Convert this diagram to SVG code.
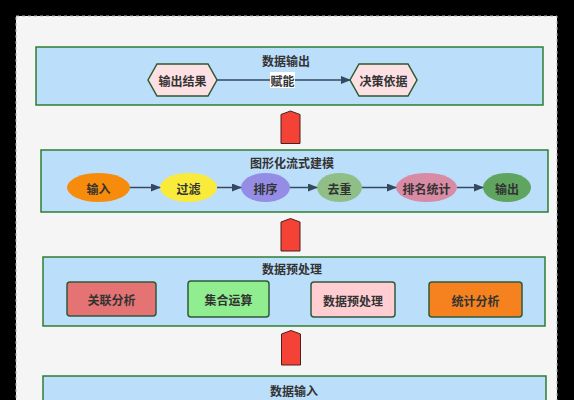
<svg xmlns="http://www.w3.org/2000/svg" width="574" height="400" viewBox="0 0 574 400">
<defs>
<style>
text{font-family:"Noto Sans CJK SC","Noto Sans",sans-serif;font-weight:bold;fill:#333;text-anchor:middle;dominant-baseline:central;font-size:12px}
.layer{fill:#bbdefb;stroke:#2e7d32;stroke-width:1.5}
.hex{fill:#fde0e3;stroke:#2e5a2e;stroke-width:1.5}
.box{stroke:#2f5a3a;stroke-width:1.5}
.conn{stroke:#34495e;stroke-width:1.5;fill:none}
.up{fill:#f44336;stroke:#4a2020;stroke-width:1}
</style>
<marker id="ah" markerWidth="10" markerHeight="8" refX="9" refY="4" orient="auto" markerUnits="userSpaceOnUse">
<path d="M0,0 L10,4 L0,8 z" fill="#34495e"/>
</marker>
</defs>
<rect x="0" y="0" width="574" height="400" fill="#000"/>
<rect x="16" y="16" width="541" height="400" fill="#f5f5f5" stroke="#b0b0b0" stroke-dasharray="3,3"/>

<g id="layer-output">
<rect class="layer" x="36" y="47" width="507" height="58"/>
<text x="286" y="60">数据输出</text>
</g>
<g id="n-result">
<polygon class="hex" points="148,80 157,64 208,64 217,80 208,96 157,96"/>
<text x="182.5" y="80">输出结果</text>
</g>
<g id="n-decision">
<polygon class="hex" points="350,80 359,64 408,64 417,80 408,96 359,96"/>
<text x="383.5" y="80">决策依据</text>
</g>

<g id="layer-model">
<rect class="layer" x="41" y="150" width="507" height="62"/>
<text x="292" y="162">图形化流式建模</text>
</g>
<g id="n-in"><ellipse cx="98.5" cy="187.5" rx="31.5" ry="14.5" fill="#f78c0c"/><text x="98.5" y="188">输入</text></g>
<g id="n-filter"><ellipse cx="188.5" cy="187.5" rx="28.5" ry="14.5" fill="#f9ea3c"/><text x="188.5" y="188">过滤</text></g>
<g id="n-sort"><ellipse cx="265.5" cy="187.5" rx="24.5" ry="14.5" fill="#958ce6"/><text x="265.5" y="188">排序</text></g>
<g id="n-dedup"><ellipse cx="339.5" cy="187.5" rx="22.5" ry="14.5" fill="#8fbf86"/><text x="339.5" y="188">去重</text></g>
<g id="n-rank"><ellipse cx="426.5" cy="187.5" rx="30.5" ry="14.5" fill="#d98aa5"/><text x="426.5" y="188">排名统计</text></g>
<g id="n-out"><ellipse cx="507" cy="187.5" rx="24" ry="14.5" fill="#5fa55f"/><text x="507" y="188">输出</text></g>

<g id="layer-pre">
<rect class="layer" x="43" y="257" width="502" height="69"/>
<text x="292" y="268">数据预处理</text>
</g>
<g id="n-assoc"><rect class="box" x="67" y="282" width="89" height="34" rx="3" fill="#e57373"/><text x="111.5" y="299.5">关联分析</text></g>
<g id="n-set"><rect class="box" x="188" y="281" width="81" height="36" rx="3" fill="#90ee90"/><text x="228.5" y="299">集合运算</text></g>
<g id="n-prep"><rect class="box" x="311" y="282" width="84" height="35" rx="3" fill="#ffcdd2"/><text x="353" y="300">数据预处理</text></g>
<g id="n-stat"><rect class="box" x="429" y="282" width="93" height="35" rx="3" fill="#f5821f"/><text x="475.5" y="300">统计分析</text></g>

<g id="layer-input">
<rect class="layer" x="43" y="376" width="503" height="40"/>
<text x="294" y="390">数据输入</text>
</g>

<g id="connectors">
<line class="conn" x1="217" y1="80" x2="350" y2="80" marker-end="url(#ah)"/>
<rect x="270" y="72" width="25" height="16" fill="#fff"/>
<text x="282.5" y="80">赋能</text>
<line class="conn" x1="130" y1="187.5" x2="160" y2="187.5" marker-end="url(#ah)"/>
<line class="conn" x1="217" y1="187.5" x2="241" y2="187.5" marker-end="url(#ah)"/>
<line class="conn" x1="290" y1="187.5" x2="317" y2="187.5" marker-end="url(#ah)"/>
<line class="conn" x1="362" y1="187.5" x2="396" y2="187.5" marker-end="url(#ah)"/>
<line class="conn" x1="457" y1="187.5" x2="483" y2="187.5" marker-end="url(#ah)"/>
<polygon class="up" points="281,114.5 290.5,111 300,114.5 300,143.5 281,143.5"/>
<polygon class="up" points="281,222 290.5,218.5 300,222 300,251 281,251"/>
<polygon class="up" points="281.5,334 291,330.5 300.5,334 300.5,365 281.5,365"/>
</g>
</svg>
